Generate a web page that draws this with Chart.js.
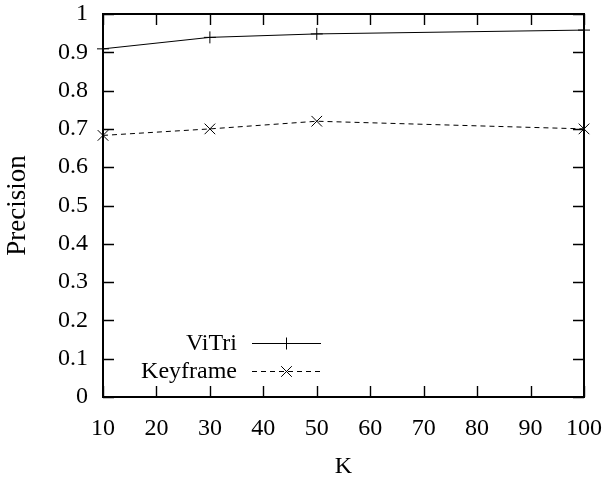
<!DOCTYPE html>
<html>
<head>
<meta charset="utf-8">
<script src="https://cdn.jsdelivr.net/npm/chart.js@4"></script>
<style>
  html, body { margin: 0; padding: 0; background: #fff; }
  #wrap { width: 604px; height: 479px; }
</style>
</head>
<body>
<div id="wrap"><canvas id="c" width="604" height="479"></canvas></div>
<script>
// ---- data ----
const kValues = [10, 30, 50, 100];
const vitriPrecision = [0.909, 0.939, 0.948, 0.958];
const keyframePrecision = [0.683, 0.700, 0.720, 0.700];
const seriesNames = ['ViTri', 'Keyframe'];
const xTickValues = [10, 20, 30, 40, 50, 60, 70, 80, 90, 100];
const yTickValues = [0, 0.1, 0.2, 0.3, 0.4, 0.5, 0.6, 0.7, 0.8, 0.9, 1];
const yTickLabels = ['0', '0.1', '0.2', '0.3', '0.4', '0.5', '0.6', '0.7', '0.8', '0.9', '1'];
const xTitle = 'K';
const yTitle = 'Precision';

const FONT = '"Liberation Serif", "Times New Roman", Times, serif';
const FSIZE = 24;

const framePlugin = {
  id: 'frame',
  afterDatasetsDraw(chart) {
    const ctx = chart.ctx;
    const a = chart.chartArea;
    const xs = chart.scales.x, ys = chart.scales.y;
    const T = 11;
    ctx.save();
    ctx.strokeStyle = '#000';
    ctx.lineWidth = 1.4;
    ctx.beginPath();
    xTickValues.forEach(v => {
      const px = Math.round(xs.getPixelForValue(v)) + 0.5;
      ctx.moveTo(px, a.bottom); ctx.lineTo(px, a.bottom - T);
      ctx.moveTo(px, a.top); ctx.lineTo(px, a.top + T);
    });
    yTickValues.forEach(v => {
      const py = Math.round(ys.getPixelForValue(v)) + 0.5;
      ctx.moveTo(a.left, py); ctx.lineTo(a.left + T, py);
      ctx.moveTo(a.right, py); ctx.lineTo(a.right - T, py);
    });
    ctx.stroke();
    ctx.lineWidth = 2;
    ctx.strokeRect(Math.round(a.left), Math.round(a.top), Math.round(a.right - a.left), Math.round(a.bottom - a.top));
    ctx.restore();
  },
  afterDraw(chart) {
    // legend inside plot (gnuplot style)
    const ctx = chart.ctx;
    const a = chart.chartArea;
    const items = chart.data.datasets;
    const textRight = a.left + 134;
    const lineL = a.left + 149, lineR = a.left + 218;
    const rowY = [a.bottom - 54, a.bottom - 26];
    ctx.save();
    ctx.font = FSIZE + 'px ' + FONT;
    ctx.fillStyle = '#000';
    ctx.textAlign = 'right';
    ctx.textBaseline = 'middle';
    items.forEach((ds, i) => {
      const y = rowY[i];
      ctx.fillText(ds.label, textRight, y + 1);
      ctx.strokeStyle = '#000';
      ctx.lineWidth = 1;
      ctx.setLineDash(ds.borderDash || []);
      ctx.beginPath();
      ctx.moveTo(lineL, y + 0.5); ctx.lineTo(lineR, y + 0.5);
      ctx.stroke();
      ctx.setLineDash([]);
      const cx = (lineL + lineR) / 2;
      Chart.helpers.drawPoint(ctx, {
        pointStyle: ds.pointStyle, radius: ds.pointRadius, borderWidth: 1, rotation: 0
      }, cx, y + 0.5);
    });
    ctx.restore();
  }
};

new Chart(document.getElementById('c'), {
  type: 'line',
  data: {
    datasets: [
      {
        label: seriesNames[0],
        data: kValues.map((k, i) => ({ x: k, y: vitriPrecision[i] })),
        borderColor: '#000', backgroundColor: '#000', borderWidth: 1,
        pointStyle: 'cross', pointRadius: 6, pointBorderWidth: 1,
        pointBorderColor: '#000', fill: false, tension: 0, clip: false
      },
      {
        label: seriesNames[1],
        data: kValues.map((k, i) => ({ x: k, y: keyframePrecision[i] })),
        borderColor: '#000', backgroundColor: '#000', borderWidth: 1,
        borderDash: [5, 4],
        pointStyle: 'crossRot', pointRadius: 7.5, pointBorderWidth: 1,
        pointBorderColor: '#000', fill: false, tension: 0, clip: false
      }
    ]
  },
  options: {
    responsive: false,
    animation: false,
    events: [],
    layout: { padding: 0 },
    plugins: { legend: { display: false }, tooltip: { enabled: false } },
    scales: {
      x: {
        type: 'linear', min: 10, max: 100,
        afterFit(s) { s.height = 82; s.paddingLeft = 0; s.paddingRight = 20; },
        afterBuildTicks(s) { s.ticks = xTickValues.map(v => ({ value: v })); },
        grid: { display: false, drawTicks: false },
        border: { display: false },
        ticks: {
          padding: 17, color: '#000', maxRotation: 0, autoSkip: false,
          font: { family: FONT, size: FSIZE },
          callback: v => String(v)
        },
        title: {
          display: true, text: xTitle, color: '#000',
          font: { family: FONT, size: FSIZE, lineHeight: 1 },
          padding: { top: 0, bottom: 0 }
        }
      },
      y: {
        type: 'linear', min: 0, max: 1,
        afterFit(s) { s.width = 103; s.paddingTop = 14; s.paddingBottom = 0; },
        afterBuildTicks(s) { s.ticks = yTickValues.map(v => ({ value: v })); },
        grid: { display: false, drawTicks: false },
        border: { display: false },
        ticks: {
          padding: 15, color: '#000', autoSkip: false,
          font: { family: FONT, size: FSIZE },
          callback: (v) => { const i = yTickValues.findIndex(t => Math.abs(t - v) < 1e-9); return i >= 0 ? yTickLabels[i] : ''; }
        },
        title: {
          display: true, text: yTitle, color: '#000',
          font: { family: FONT, size: 27, lineHeight: 1 },
          padding: { top: 4, bottom: 0 }
        }
      }
    }
  },
  plugins: [framePlugin]
});
</script>
</body>
</html>
